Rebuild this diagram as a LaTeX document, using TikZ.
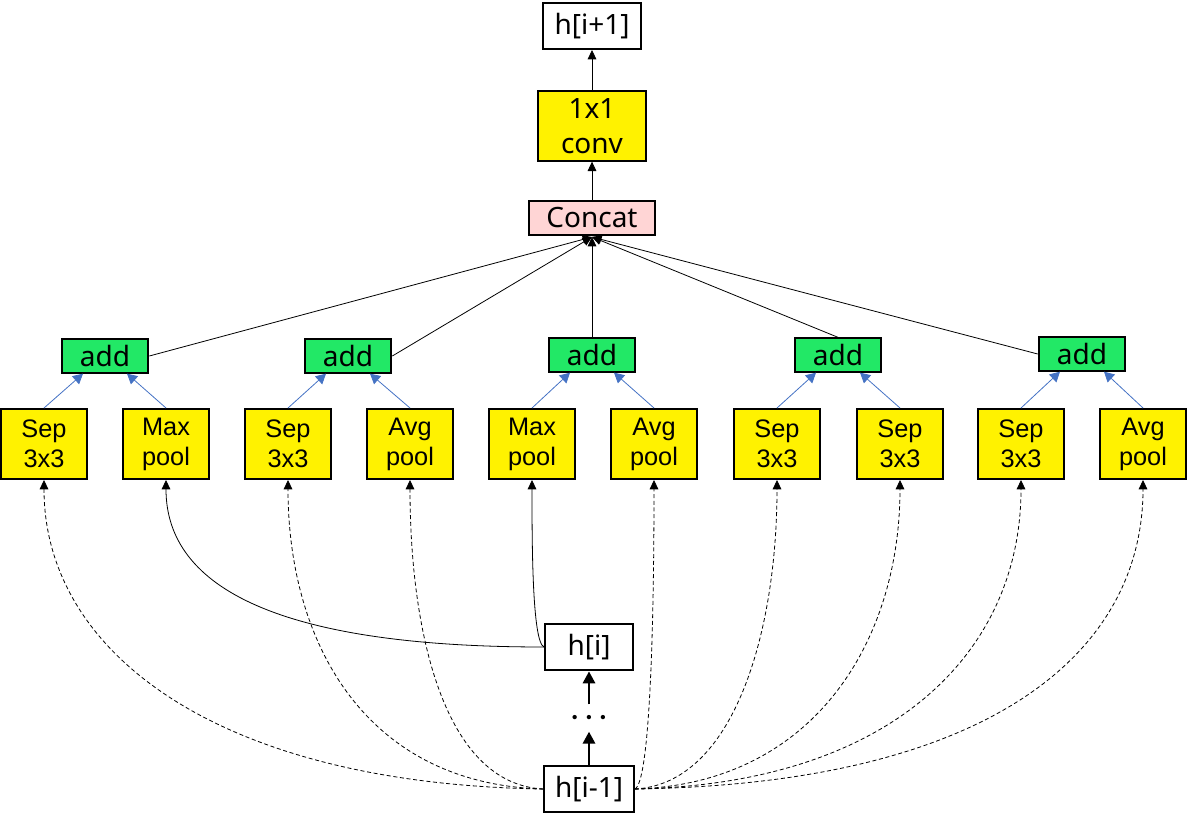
\documentclass[tikz,border=0pt]{standalone}
\usepackage{fontspec}
\setmainfont{Noto Sans}
\newfontfamily\arial{Liberation Sans}
\usetikzlibrary{arrows.meta}
\definecolor{addgreen}{HTML}{22E866}
\definecolor{catpink}{HTML}{FFD5D5}
\definecolor{arrblue}{HTML}{4472C4}
\begin{document}
\begin{tikzpicture}[x=0.75pt,y=-0.75pt,
  box/.style={draw=black,line width=1.5pt,inner sep=0pt,align=center},
  wbox/.style={box,fill=white,font=\fontsize{21pt}{26pt}\selectfont},
  convbox/.style={box,fill=yellow,minimum width=81pt,minimum height=52pt,font=\fontsize{21pt}{26pt}\selectfont},
  catbox/.style={box,fill=catpink,minimum width=94.5pt,minimum height=25pt,font=\fontsize{21pt}{24pt}\selectfont},
  addbox/.style={box,fill=addgreen,minimum width=65pt,minimum height=25pt,font=\fontsize{21pt}{24pt}\selectfont},
  opbox/.style={box,fill=yellow,minimum width=65pt,minimum height=52.5pt,font=\arial\fontsize{19pt}{22.5pt}\selectfont},
  blk/.style={-{Triangle[length=7pt,width=6.5pt]},line width=0.6pt},
  blu/.style={-{Triangle[length=7.5pt,width=8pt]},draw=arrblue,line width=0.6pt},
  dsh/.style={blk,dash pattern=on 3pt off 2pt},
  thk/.style={-{Triangle[length=9pt,width=9pt]},line width=2.2pt}
]
\useasboundingbox (0,0) rectangle (1188,824);

% top column
\node[wbox,minimum width=73pt,minimum height=34.5pt] (hip1) at (592,26) {h[i+1]};
\node[convbox] (conv) at (592,126) {1x1\\conv};
\node[catbox] (cat) at (592,218) {Concat};
\coordinate (cin) at (592,237);

% add nodes
\node[addbox] (a1) at (105,356) {add};
\node[addbox] (a2) at (348,356) {add};
\node[addbox] (a3) at (592,355) {add};
\node[addbox] (a4) at (838,355) {add};
\node[addbox] (a5) at (1082,354) {add};

% op boxes
\node[opbox] (o1) at (44,444) {Sep\\3x3};
\node[opbox] (o2) at (166,444) {Max\\pool};
\node[opbox] (o3) at (288,444) {Sep\\3x3};
\node[opbox] (o4) at (410,444) {Avg\\pool};
\node[opbox] (o5) at (532,444) {Max\\pool};
\node[opbox] (o6) at (654,444) {Avg\\pool};
\node[opbox] (o7) at (777,444) {Sep\\3x3};
\node[opbox] (o8) at (900,444) {Sep\\3x3};
\node[opbox] (o9) at (1021,444) {Sep\\3x3};
\node[opbox] (o10) at (1143,444) {Avg\\pool};

% inputs
\node[wbox,minimum width=66pt,minimum height=35pt] (hi) at (589,647) {h[i]};
\node[inner sep=0pt,minimum height=20pt,font=\fontsize{22pt}{22pt}\selectfont\boldmath] (dots) at (589,718) {$\cdots$};
\node[wbox,minimum width=67pt,minimum height=34.5pt] (him1) at (589,789) {h[i-1]};

% top arrows
\draw[blk] (conv.north) -- (hip1.south);
\draw[blk] (cat.north) -- (conv.south);

% add -> concat
\draw[blk] (a1.east) -- (cin);
\draw[blk] (a2.east) -- (cin);
\draw[blk] (a3.north) -- (cin);
\draw[blk] (a4.north) -- (cin);
\draw[blk] (a5.west) -- (cin);

% ops -> add (blue)
\foreach \a/\l/\r in {a1/o1/o2,a2/o3/o4,a3/o5/o6,a4/o7/o8,a5/o9/o10}{
  \draw[blu] (\l.north) -- ([xshift=-16.5pt]\a.south);
  \draw[blu] (\r.north) -- ([xshift=16.5pt]\a.south);
}

% thick chain
\draw[thk] (him1.north) -- (dots.south);
\draw[thk] (dots.north) -- (hi.south);

% solid curves from h[i]
\draw[blk] (hi.west) .. controls +(-260,0) and +(0,110) .. (o2.south);
\draw[blk] (hi.west) .. controls +(-12,-5) and +(0,60) .. (o5.south);

% dashed curves from h[i-1]
\draw[dsh] (him1.west) .. controls +(-330,-5) and +(0,170) .. (o1.south);
\draw[dsh] (him1.west) .. controls +(-180,-5) and +(0,160) .. (o3.south);
\draw[dsh] (him1.west) .. controls +(-100,-5) and +(0,150) .. (o4.south);
\draw[dsh] (him1.east) .. controls +(15,-5) and +(0,150) .. (o6.south);
\draw[dsh] (him1.east) .. controls +(100,-5) and +(0,150) .. (o7.south);
\draw[dsh] (him1.east) .. controls +(180,-5) and +(0,160) .. (o8.south);
\draw[dsh] (him1.east) .. controls +(260,-5) and +(0,170) .. (o9.south);
\draw[dsh] (him1.east) .. controls +(360,-5) and +(0,170) .. (o10.south);
\end{tikzpicture}
\end{document}
